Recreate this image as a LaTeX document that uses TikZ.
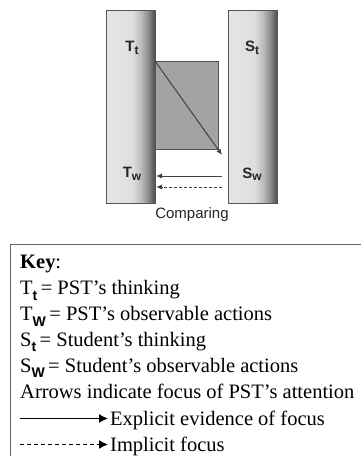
\documentclass[tikz,border=0pt]{standalone}
\usepackage{fontspec}
\setmainfont{Liberation Serif}
\setsansfont{Liberation Sans}
\usetikzlibrary{arrows.meta}
\definecolor{edge}{HTML}{555555}
\definecolor{sq}{HTML}{A3A3A3}
\pgfdeclarehorizontalshading{barshade}{100bp}{color(0bp)=(white!90!black); color(25bp)=(white!90!black); color(52bp)=(white!87!black); color(60bp)=(white!75!black); color(68bp)=(white!55!black); color(75bp)=(white!30!black); color(100bp)=(white!30!black)}
\tikzset{
  bar/.style={draw=edge, line width=0.8pt, shading=barshade},
  lab/.style={font=\sffamily\bfseries\fontsize{15}{17}\selectfont, text=black!85},
  keytxt/.style={anchor=base west, inner sep=0pt, font=\fontsize{20.5}{22}\selectfont},
  arr/.style={draw=black!75, line width=1pt, -{Latex[length=6pt,width=5pt]}},
  keyarr/.style={draw=black, line width=1.4pt, -{Latex[length=9pt,width=9pt]}}
}
\newcommand{\lsub}[1]{\raisebox{-0.3ex}{\fontsize{12}{13}\selectfont #1}}
\newcommand{\ksub}[1]{\raisebox{-0.6ex}{\fontsize{14}{15}\selectfont\sffamily\bfseries #1}}
\begin{document}
\begin{tikzpicture}[x=1pt,y=-1pt]
\useasboundingbox (0,0) rectangle (361,456);
% bars
\path[bar] (106,10) rectangle (155,203);
\path[bar] (228,10) rectangle (277,203);
% square
\draw[edge, fill=sq, line width=0.8pt] (155,61) rectangle (218,149);
\node[lab] (Tt) at (132,48) {T\lsub{t}};
\node[lab] (St) at (252,48) {S\lsub{t}};
\node[lab] (Tw) at (132,174) {T\lsub{w}};
\node[lab] (Sw) at (252,174) {S\lsub{w}};
\coordinate (d1) at (155,61);
\coordinate (d2) at (222,155);
\coordinate (a1) at (222,176);
\coordinate (a2) at (156,176);
\coordinate (b1) at (222,187);
\coordinate (b2) at (156,187);
\draw[arr] (d1) -- (d2);
\draw[arr] (a1) -- (a2);
\draw[arr, dash pattern=on 3pt off 2pt] (b1) -- (b2);
\node[font=\sffamily\fontsize{15}{17}\selectfont, text=black!85, anchor=base] (cmp) at (192,218) {Comparing};
% key
\draw[draw=black!60, line width=1pt] (10,244) rectangle (375,475);
\node[keytxt] (k0) at (20,268) {\textbf{Key}:};
\node[keytxt] (k1) at (20,294.5) {T\ksub{t}\,= PST’s thinking};
\node[keytxt] (k2) at (20,320.5) {T\ksub{W}\,= PST’s observable actions};
\node[keytxt] (k3) at (20,346) {S\ksub{t}\,= Student’s thinking};
\node[keytxt] (k4) at (20,372) {S\ksub{W}\,= Student’s observable actions};
\node[keytxt] (k5) at (20,398) {Arrows indicate focus of PST’s attention};
\node[keytxt] (k6) at (110,425) {Explicit evidence of focus};
\node[keytxt] (k7) at (110,451) {Implicit focus};
\coordinate (e1) at (20,418.5);
\coordinate (e2) at (108,418.5);
\coordinate (f1) at (20,444.5);
\coordinate (f2) at (108,444.5);
\draw[keyarr] (e1) -- (e2);
\draw[keyarr, dash pattern=on 4pt off 3pt] (f1) -- (f2);
\end{tikzpicture}
\end{document}
